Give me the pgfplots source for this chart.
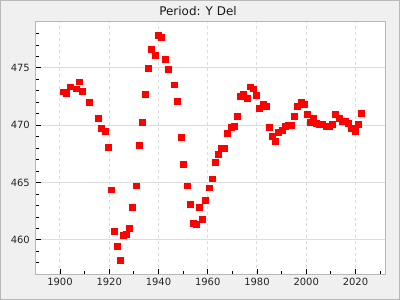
\documentclass[border=0pt]{standalone}
\usepackage{fontspec}
\setmainfont{DejaVu Sans}
\usepackage{pgfplots}
\pgfplotsset{compat=1.18}
\definecolor{bgc}{HTML}{F0F0F0}
\definecolor{framec}{HTML}{B8B8B8}
\definecolor{gridc}{HTML}{DCDCDC}
\begin{document}
\begin{tikzpicture}[x=1bp,y=1bp]
\fill[bgc] (0,0) rectangle (400,300);
\draw[framec, line width=1bp] (0.5,0.5) rectangle (399.5,299.5);
\node[font=\fontsize{12}{14}\selectfont, text=black!90] at (198,289) {Period: Y Del};
\begin{axis}[at={(35.3bp,25.7bp)}, anchor=south west, scale only axis,
 width=349.7bp, height=252.3bp,
 xmin=1890, xmax=2032, ymin=457, ymax=479,
 axis background/.style={fill=white},
 axis line style={framec, line width=1bp},
 xtick={1900,1920,...,2020}, minor xtick={1890,1910,...,2030},
 ytick={460,465,470,475},
 minor ytick={457,458,459,461,462,463,464,466,467,468,469,471,472,473,474,476,477,478},
 tick align=inside, xtick pos=bottom, ytick pos=left,
 major tick length=5.5bp, minor tick length=3.5bp,
 every tick/.style={black, line width=0.8bp},
 grid=major,
 major x grid style={gridc, dashed, line width=1bp},
 major y grid style={gridc, line width=1bp},
 ticklabel style={font=\fontsize{10}{12}\selectfont, text=black!85},
 yticklabel style={xshift=-2bp},
 /pgf/number format/assume math mode=true,
 /pgf/number format/1000 sep={},
]
\addplot[color=red, only marks, mark=square*, mark size=2.9bp, line width=0.4bp, mark options={solid, fill=red, draw=red}] coordinates {
(1901.4,472.93) (1902.6,472.76) (1904.2,473.36) (1906.6,473.19) (1907.8,473.8)
(1909.1,473.0) (1911.9,471.98) (1915.6,470.6) (1916.8,469.74) (1918.4,469.48)
(1919.6,468.1) (1920.8,464.38) (1922.0,460.75) (1923.3,459.45) (1924.5,458.24)
(1925.7,460.41) (1926.9,460.49) (1928.1,461.0) (1929.3,462.83) (1930.9,464.73)
(1932.2,468.28) (1933.4,470.26) (1934.6,472.67) (1935.8,475.0) (1937.1,476.64)
(1938.7,476.12) (1939.9,477.84) (1941.1,477.67) (1942.7,475.78) (1943.9,474.91)
(1946.4,473.53) (1947.6,472.07) (1949.2,468.97) (1950.0,466.63) (1951.6,464.73)
(1952.8,463.09) (1954.1,461.44) (1955.3,461.36) (1956.5,462.83) (1957.7,461.79)
(1958.9,463.43) (1960.6,464.55) (1961.8,465.33) (1963.0,466.8) (1964.2,467.5)
(1965.4,468.0) (1966.7,468.0) (1967.9,469.3) (1969.5,469.83) (1970.7,469.91)
(1971.9,470.78) (1973.2,472.5) (1974.4,472.67) (1976.0,472.33) (1977.2,473.36)
(1978.4,473.19) (1979.7,472.59) (1980.9,471.47) (1982.5,471.81) (1983.7,471.64)
(1984.9,469.83) (1986.1,469.05) (1987.4,468.62) (1988.6,469.4) (1990.2,469.57)
(1991.4,469.91) (1992.6,470.0) (1993.8,470.0) (1995.1,470.78) (1996.3,471.64)
(1997.9,471.98) (1999.1,471.81) (2000.3,470.95) (2001.5,470.26) (2002.8,470.6)
(2004.0,470.17) (2005.2,470.09) (2006.4,470.09) (2008.0,469.91) (2009.2,469.91)
(2010.5,470.09) (2011.7,470.95) (2013.3,470.6) (2014.5,470.34) (2015.8,470.34)
(2017.0,470.17) (2018.2,469.74) (2019.8,469.48) (2021.0,470.09) (2022.2,471.04)
};
\end{axis}
\end{tikzpicture}
\end{document}
